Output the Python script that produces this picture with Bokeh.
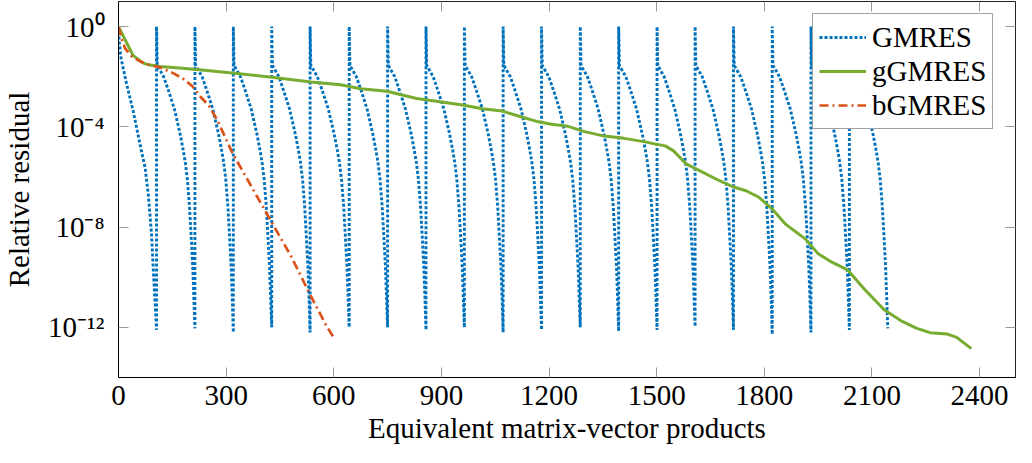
import numpy as np
from bokeh.plotting import figure
from bokeh.models import (FixedTicker, LinearAxis, LogAxis, CustomJSTickFormatter,
                          Legend, LegendItem, Range1d)
from bokeh.embed import file_html
from bokeh.resources import INLINE

# ---------------- data ----------------
X_TICKS = [0, 300, 600, 900, 1200, 1500, 1800, 2100, 2400]
Y_TICKS = [1e-12, 1e-8, 1e-4, 1e0]

# GMRES: one solve per right-hand side, 20 solves in a row
GMRES_CYCLE_END = [106, 213, 320, 427, 534, 643, 750, 857, 964, 1072,
                   1179, 1287, 1394, 1501, 1607, 1714, 1822, 1930, 2037, 2144]
GMRES_CYCLE_FLOOR = [-12.10, -12.04, -12.20, -12.00, -12.20, -12.00, -12.00, -12.10,
                     -12.00, -12.20, -12.10, -12.00, -12.15, -12.10, -11.97, -12.10,
                     -12.28, -12.20, -12.10, -12.04]          # log10 of last residual
# first solve (offset in products, log10 residual)
GMRES_FIRST_OFF = [0, 2, 7, 23, 41, 60, 74, 83, 92, 98, 103]
GMRES_FIRST_LOG = [0, -0.6, -1.26, -2.32, -3.37, -4.70, -5.62, -6.68, -8.27, -9.99, -11.3]
# typical later solve (offset in products, log10 residual)
GMRES_OFF = [0, 2, 8, 14, 20, 32, 40, 50, 58, 66, 74, 80, 86, 92, 97, 101, 104]
GMRES_LOG = [0, -1.55, -1.7, -1.85, -2.0, -2.5, -2.85, -3.3, -3.8, -4.3, -4.9, -5.4,
             -6.1, -7.2, -8.5, -9.6, -10.8]

GGMRES_X = [0, 41, 69, 83, 115, 170, 225, 317, 427, 537, 619, 675, 748, 785, 831, 886,
            959, 1014, 1069, 1115, 1170, 1207, 1253, 1299, 1354, 1409, 1464, 1501, 1524,
            1547, 1583, 1611, 1675, 1712, 1749, 1785, 1822, 1858, 1914, 1950, 1987, 2033,
            2079, 2134, 2180, 2225, 2262, 2308, 2336, 2377]
GGMRES_LOG = [0, -1.16, -1.46, -1.52, -1.59, -1.65, -1.72, -1.85, -2.02, -2.21, -2.32,
              -2.48, -2.58, -2.71, -2.87, -2.98, -3.13, -3.28, -3.37, -3.57, -3.80, -3.90,
              -3.98, -4.19, -4.37, -4.46, -4.59, -4.70, -4.76, -4.96, -5.49, -5.69, -6.15,
              -6.39, -6.55, -6.81, -7.28, -7.87, -8.47, -9.06, -9.39, -9.72, -10.48,
              -11.30, -11.73, -12.04, -12.21, -12.26, -12.40, -12.85]

BGMRES_X = [0, 8, 18, 36, 60, 85, 115, 151, 179, 206, 229, 252, 275, 317, 372, 427,
            482, 528, 578, 601]
BGMRES_LOG = [0, -0.46, -0.86, -1.18, -1.39, -1.52, -1.63, -1.85, -2.07, -2.38, -2.81,
              -3.16, -3.72, -5.03, -6.42, -7.81, -9.19, -10.52, -11.9, -12.44]

# ---------------- build GMRES polyline from the cycles ----------------
gx, gy = [], []
start = 0
for k, (end, floor) in enumerate(zip(GMRES_CYCLE_END, GMRES_CYCLE_FLOOR)):
    offs, logs = (GMRES_FIRST_OFF, GMRES_FIRST_LOG) if k == 0 else (GMRES_OFF, GMRES_LOG)
    length = end - start
    ref_len = offs[-1] + 3
    for o, l in zip(offs, logs):
        gx.append(start + o * length / ref_len)
        gy.append(10.0 ** l)
    gx.append(end)
    gy.append(10.0 ** floor)
    start = end

FONT = "Liberation Serif"
FS = "29px"
W, H = 1016, 447
BL, BR, BT, BB = 114, 1, 1, 70
FRAME_W, FRAME_H = W - BL - BR, H - BT - BB

p = figure(width=W, height=H, y_axis_type="log",
           x_range=Range1d(0, 2500), y_range=Range1d(1e-14, 10),
           output_backend="svg", toolbar_location=None,
           min_border_left=BL, min_border_right=BR, min_border_top=BT,
           min_border_bottom=BB)
p.grid.visible = False
p.outline_line_color = "#222222"
p.outline_line_width = 1
p.background_fill_color = "white"
p.border_fill_color = "white"

r1 = p.line(gx, gy, line_color="#0072BD", line_width=2.9, line_dash="3 2")
r2 = p.line(GGMRES_X, [10.0 ** v for v in GGMRES_LOG], line_color="#77AC30", line_width=3)
r3 = p.line(BGMRES_X, [10.0 ** v for v in BGMRES_LOG], line_color="#D95319",
            line_width=2.7, line_dash="9 4 2 4")

sup_fmt = CustomJSTickFormatter(code="""
const s = {'0':'\u2070','1':'\u00b9','2':'\u00b2','3':'\u00b3','4':'\u2074','5':'\u2075',
           '6':'\u2076','7':'\u2077','8':'\u2078','9':'\u2079','-':'\u207b'};
const e = Math.round(Math.log10(tick));
return '10' + String(e).split('').map(c => s[c]).join('');
""")
blank_fmt = CustomJSTickFormatter(code="return '';")


def style_axis(ax, show_labels):
    ax.major_tick_in = 10
    ax.major_tick_out = 0
    ax.minor_tick_line_color = None
    ax.major_tick_line_color = "#999999"
    ax.major_tick_line_width = 1
    ax.major_label_text_font = FONT
    ax.major_label_text_color = "black"
    ax.major_label_text_font_size = FS
    ax.major_label_text_line_height = 0.9
    ax.axis_label_text_font = FONT
    ax.axis_label_text_font_style = "normal"
    ax.axis_label_text_color = "black"
    ax.axis_label_text_font_size = FS
    ax.axis_label_text_line_height = 0.9
    if show_labels:
        ax.axis_line_color = "black"
        ax.axis_line_width = 1
    else:
        ax.formatter = blank_fmt
        ax.major_label_standoff = 0
        ax.axis_line_color = None


xa = p.xaxis[0]
xa.ticker = FixedTicker(ticks=X_TICKS)
xa.axis_label = "Equivalent matrix-vector products"
style_axis(xa, True)
xa.major_label_standoff = 8
xa.axis_label_standoff = 4

ya = p.yaxis[0]
ya.ticker = FixedTicker(ticks=Y_TICKS)
ya.formatter = sup_fmt
ya.axis_label = "Relative residual"
style_axis(ya, True)
ya.major_label_standoff = 14
ya.axis_label_standoff = 10

top = LinearAxis(ticker=FixedTicker(ticks=X_TICKS))
style_axis(top, False)
p.add_layout(top, "above")
right = LogAxis(ticker=FixedTicker(ticks=Y_TICKS))
style_axis(right, False)
p.add_layout(right, "right")

legend = Legend(items=[LegendItem(label="GMRES", renderers=[r1]),
                       LegendItem(label="gGMRES", renderers=[r2]),
                       LegendItem(label="bGMRES", renderers=[r3])],
                location=(FRAME_W - 207, FRAME_H - 12 - 116))
legend.label_text_font = FONT
legend.label_text_font_size = FS
legend.label_text_color = "black"
legend.glyph_width = 47
legend.glyph_height = 30
legend.label_height = 34
legend.label_standoff = 6
legend.spacing = 0
legend.padding = 6
legend.margin = 0
legend.border_line_color = "#444444"
legend.border_line_width = 1
legend.background_fill_alpha = 1
p.add_layout(legend)

open("out.html", "w").write(file_html(p, INLINE))
